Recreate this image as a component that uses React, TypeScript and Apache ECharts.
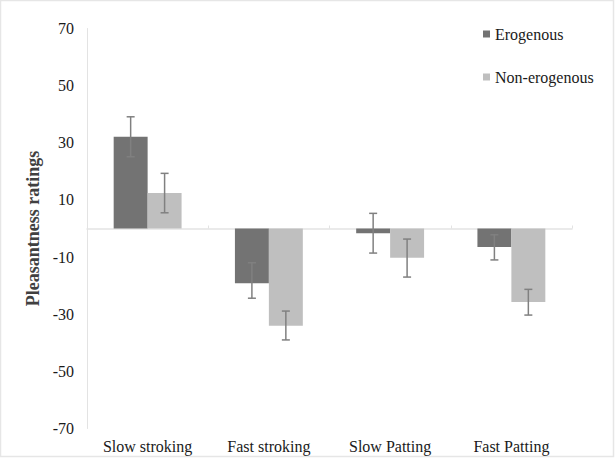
import React, { useEffect, useRef } from "react";
import * as echarts from "echarts";

const categories = ["Slow stroking", "Fast stroking", "Slow Patting", "Fast Patting"];
const seriesNames = ["Erogenous", "Non-erogenous"];
const erogenous = [32.1, -19.2, -1.7, -6.5];
const nonErogenous = [12.4, -34.0, -10.2, -25.7];
const erogenousErrLow = [25.1, -24.4, -8.6, -11.0];
const erogenousErrHigh = [39.1, -12.0, 5.3, -2.2];
const nonErogenousErrLow = [5.5, -39.0, -17.0, -30.3];
const nonErogenousErrHigh = [19.3, -28.9, -3.7, -21.3];
const yTicks = { min: -70, max: 70, interval: 20 };

const FONT = "Times New Roman, serif";

export default function App() {
  const ref = useRef<HTMLDivElement>(null);
  useEffect(() => {
    if (!ref.current) return;
    const chart = echarts.init(ref.current, undefined, { renderer: "svg" });
    const errData: number[][] = [];
    categories.forEach((_, i) => {
      errData.push([i, erogenousErrLow[i], erogenousErrHigh[i], 0]);
      errData.push([i, nonErogenousErrLow[i], nonErogenousErrHigh[i], 1]);
    });
    const errColor = "#808080";
    chart.setOption({
      animation: false,
      backgroundColor: "#ffffff",
      textStyle: { fontFamily: FONT },
      grid: { left: 87, right: 43, top: 28.5, bottom: 29.5, containLabel: false },
      legend: {
        orient: "vertical",
        left: 478,
        top: 21,
        itemWidth: 7,
        itemHeight: 7,
        itemGap: 27,
        icon: "rect",
        data: seriesNames,
        textStyle: { fontFamily: FONT, fontSize: 16, fontWeight: "normal", color: "#1a1a1a" },
      },
      xAxis: [
        {
          type: "category",
          data: categories,
          position: "bottom",
          axisLine: { show: false, onZero: false },
          axisTick: { show: false },
          axisLabel: { fontFamily: FONT, fontSize: 16, fontWeight: "normal", color: "#1a1a1a", margin: 10 },
        },
        {
          type: "category",
          data: categories,
          axisLine: { show: true, onZero: true, lineStyle: { color: "#e3e3e3", width: 1.5 } },
          axisTick: { show: true, length: 3, lineStyle: { color: "#e3e3e3" } },
          axisLabel: { show: false },
        },
      ],
      yAxis: {
        type: "value",
        min: yTicks.min,
        max: yTicks.max,
        interval: yTicks.interval,
        name: "Pleasantness ratings",
        nameLocation: "middle",
        nameRotate: 90,
        nameGap: 33,
        nameTextStyle: { fontFamily: FONT, fontSize: 18, fontWeight: "bold", color: "#404040" },
        axisLine: { show: true, lineStyle: { color: "#e3e3e3", width: 1 } },
        axisTick: { show: false },
        splitLine: { show: false },
        axisLabel: { fontFamily: FONT, fontSize: 16, fontWeight: "normal", color: "#1a1a1a", margin: 13 },
      },
      series: [
        {
          name: seriesNames[0],
          type: "bar",
          data: erogenous,
          barGap: "0%",
          barCategoryGap: "44%",
          itemStyle: { color: "#737373" },
        },
        {
          name: seriesNames[1],
          type: "bar",
          data: nonErogenous,
          barGap: "0%",
          barCategoryGap: "44%",
          itemStyle: { color: "#bfbfbf" },
        },
        {
          type: "custom",
          data: errData,
          z: 10,
          renderItem: (params: any, api: any) => {
            const idx = api.value(0);
            const lo = api.coord([idx, api.value(1)]);
            const hi = api.coord([idx, api.value(2)]);
            const band = api.size([1, 0])[0];
            const barW = band * 0.28;
            const off = api.value(3) === 0 ? -barW / 2 : barW / 2;
            const x = lo[0] + off;
            const cap = 4;
            const style = { stroke: errColor, lineWidth: 1.5 };
            return {
              type: "group",
              children: [
                { type: "line", shape: { x1: x, y1: lo[1], x2: x, y2: hi[1] }, style },
                { type: "line", shape: { x1: x - cap, y1: lo[1], x2: x + cap, y2: lo[1] }, style },
                { type: "line", shape: { x1: x - cap, y1: hi[1], x2: x + cap, y2: hi[1] }, style },
              ],
            };
          },
        },
      ],
      graphic: [
        {
          type: "rect",
          shape: { x: 0.5, y: 0.5, width: 613, height: 456 },
          style: { fill: "none", stroke: "#e6e6e6", lineWidth: 1.5 },
          silent: true,
        },
      ],
    });
    return () => chart.dispose();
  }, []);
  return (
    <div
      ref={ref}
      style={{ position: "fixed", left: 0, top: 0, width: 615, height: 458 }}
    />
  );
}
